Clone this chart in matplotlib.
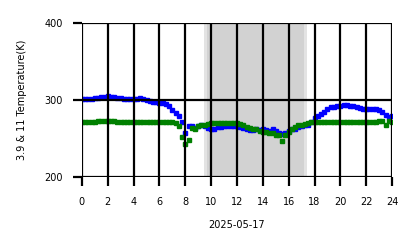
import numpy as np
import matplotlib
matplotlib.use("Agg")
import matplotlib.pyplot as plt

hours = np.arange(0, 24.01, 0.25)

temp_39 = [302, 302, 302, 302, 303, 303, 304, 304, 305, 304, 304, 303, 303, 302, 302, 301,
           301, 302, 303, 302, 300, 299, 298, 297, 296, 296, 295, 292, 287, 283, 279, 272,
           257, 266, 266, 264, 266, 267, 266, 264, 262, 263, 265, 265, 266, 266, 266, 266,
           266, 265, 264, 263, 261, 261, 262, 261, 262, 261, 260, 262, 260, 257, 256, 257,
           260, 262, 263, 265, 266, 267, 268, 272, 277, 279, 282, 285, 289, 291, 291, 292,
           292, 293, 293, 292, 292, 291, 290, 289, 289, 289, 289, 288, 287, 285, 281, 278, 279]

temp_11 = [272, 272, 272, 272, 272, 273, 273, 273, 273, 273, 273, 272, 272, 272, 272, 272,
           272, 272, 272, 272, 271, 271, 271, 271, 271, 271, 271, 271, 271, 270, 266, 252,
           243, 248, 264, 263, 266, 267, 268, 269, 270, 270, 270, 270, 270, 270, 270, 270,
           270, 269, 267, 265, 264, 263, 262, 260, 259, 258, 257, 257, 255, 254, 247, 255,
           258, 262, 265, 267, 268, 269, 270, 271, 272, 272, 272, 271, 271, 271, 271, 271,
           271, 271, 271, 271, 271, 271, 271, 271, 271, 271, 272, 272, 273, 273, 268, 273, 272]

xticks = list(range(0, 25, 2))
yticks = [200, 300, 400]
date_label = "2025-05-17"
ylabel = "3.9 & 11 Temperature(K)"
day_start, day_end = 9.5, 17.35

fig = plt.figure(figsize=(4.18, 2.48), dpi=100)
ax = fig.add_axes([0.196, 0.286, 0.742, 0.621])

ax.axvspan(day_start - 0.05, day_end + 0.05, color="#c8c8c8", alpha=0.5, lw=0, zorder=0)
ax.axvspan(day_start + 0.2, day_end - 0.2, color="#c8c8c8", alpha=0.6, lw=0, zorder=0)

ax.plot(hours, temp_39, ls="none", marker="s", ms=2.6, color="blue", mec="blue", zorder=2)
ax.plot(hours, temp_11, ls="none", marker="s", ms=2.6, color="green", mec="green", zorder=2)

ax.set_xlim(0, 24)
ax.set_ylim(200, 400)
ax.set_xticks(xticks)
ax.set_yticks(yticks)
ax.set_axisbelow(False)
ax.grid(True, color="black", lw=1.6)
for s in ax.spines.values():
    s.set_visible(False)
ax.tick_params(length=6.5, width=1.6, labelsize=7, color="black", pad=7.5)
ax.set_xlabel(date_label, fontsize=7, labelpad=10)
ax.set_ylabel(ylabel, fontsize=7, labelpad=12)

fig.savefig("out.png", dpi=100)
